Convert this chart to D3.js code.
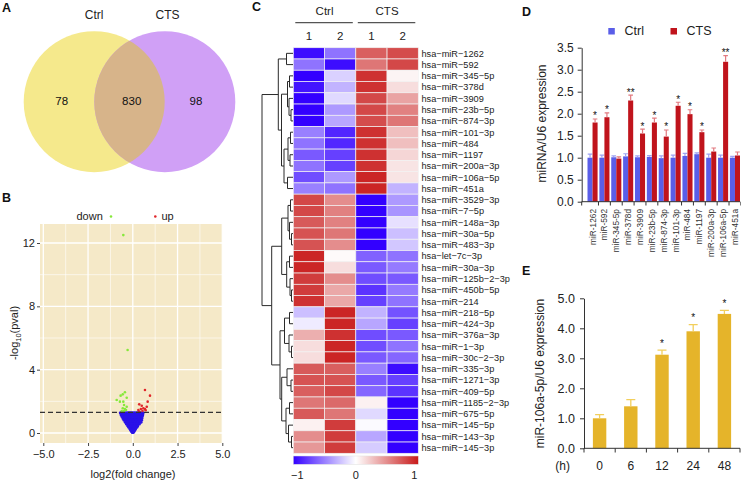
<!DOCTYPE html>
<html><head><meta charset="utf-8">
<script src="https://cdn.jsdelivr.net/npm/d3@7"></script>
<style>body{margin:0;background:#fff} text{font-family:"Liberation Sans",Arial,sans-serif}</style>
</head><body><svg id="c" width="741" height="481"></svg>
<script>
// ---------------- DATA ----------------
const vennSets = ["Ctrl", "CTS"];
const vennCounts = [78, 830, 98]; // only Ctrl, shared, only CTS

const volcanoDown = [[-0.53,12.5],[-0.29,5.24],[-0.44,2.57],[-0.56,2.44],[-0.68,2.36],[-0.34,2.23],[-0.90,2.08],[-0.72,1.98],[-0.53,1.98],[-0.49,1.77],[-0.34,1.66],[-0.56,1.56],[-0.44,1.52],[-0.49,1.39],[-0.62,1.39],[-0.38,1.45]];
const volcanoUp = [[0.68,2.72],[0.96,2.36],[0.83,1.98],[0.36,1.81],[0.50,1.72],[0.78,1.66],[0.59,1.56],[0.68,1.52],[0.45,1.52],[0.31,1.45],[0.36,1.36],[0.54,1.40],[0.72,1.44]];
const volcanoNS = [
[-0.70,1.28],[-0.62,1.28],[-0.54,1.28],[-0.46,1.28],[-0.38,1.28],[-0.30,1.28],[-0.22,1.28],[-0.14,1.28],[-0.06,1.28],[0.02,1.28],[0.10,1.28],[0.18,1.28],[0.26,1.28],[0.34,1.28],[0.42,1.28],[0.50,1.28],[0.58,1.28],
[-0.66,1.16],[-0.58,1.16],[-0.50,1.16],[-0.42,1.16],[-0.34,1.16],[-0.26,1.16],[-0.18,1.16],[-0.10,1.16],[-0.02,1.16],[0.06,1.16],[0.14,1.16],[0.22,1.16],[0.30,1.16],[0.38,1.16],[0.46,1.16],[0.56,1.16],
[-0.61,1.04],[-0.53,1.04],[-0.45,1.04],[-0.37,1.04],[-0.29,1.04],[-0.21,1.04],[-0.13,1.04],[-0.05,1.04],[0.04,1.04],[0.12,1.04],[0.20,1.04],[0.28,1.04],[0.36,1.04],[0.44,1.04],[0.53,1.04],
[-0.55,0.92],[-0.47,0.92],[-0.39,0.92],[-0.31,0.92],[-0.23,0.92],[-0.15,0.92],[-0.07,0.92],[0.02,0.92],[0.10,0.92],[0.18,0.92],[0.26,0.92],[0.34,0.92],[0.42,0.92],[0.51,0.92],
[-0.49,0.80],[-0.41,0.80],[-0.33,0.80],[-0.25,0.80],[-0.17,0.80],[-0.09,0.80],[0.00,0.80],[0.08,0.80],[0.16,0.80],[0.24,0.80],[0.32,0.80],[0.40,0.80],[0.49,0.80],
[-0.42,0.68],[-0.34,0.68],[-0.26,0.68],[-0.18,0.68],[-0.10,0.68],[-0.02,0.68],[0.06,0.68],[0.14,0.68],[0.22,0.68],[0.30,0.68],[0.38,0.68],[0.46,0.68],
[-0.36,0.57],[-0.28,0.57],[-0.20,0.57],[-0.12,0.57],[-0.04,0.57],[0.04,0.57],[0.12,0.57],[0.20,0.57],[0.28,0.57],[0.37,0.57],
[-0.29,0.46],[-0.21,0.46],[-0.13,0.46],[-0.05,0.46],[0.03,0.46],[0.11,0.46],[0.19,0.46],[0.28,0.46],
[-0.23,0.36],[-0.15,0.36],[-0.07,0.36],[0.01,0.36],[0.09,0.36],[0.17,0.36],[0.23,0.36],
[-0.17,0.27],[-0.09,0.27],[-0.01,0.27],[0.07,0.27],[0.16,0.27],
[-0.12,0.18],[-0.04,0.18],[0.04,0.18],[0.11,0.18],
[-0.07,0.10],[0.00,0.10],[0.07,0.10],
[-0.03,0.03],[0.03,0.03]];
const volcanoXTicks = [-5, -2.5, 0, 2.5, 5];
const volcanoXMinor = [-3.75, -1.25, 1.25, 3.75];
const volcanoYTicks = [0, 4, 8, 12];
const volcanoYMinor = [2, 6, 10];
const pvalCutoff = 1.3;

const heatRows = ["hsa-miR-1262","hsa-miR-592","hsa-miR-345-5p","hsa-miR-378d","hsa-miR-3909","hsa-miR-23b-5p","hsa-miR-874-3p","hsa-miR-101-3p","hsa-miR-484","hsa-miR-1197","hsa-miR-200a-3p","hsa-miR-106a-5p","hsa-miR-451a","hsa-miR-3529-3p","hsa-miR-7-5p","hsa-miR-148a-3p","hsa-miR-30a-5p","hsa-miR-483-3p","hsa-let-7c-3p","hsa-miR-30a-3p","hsa-miR-125b-2-3p","hsa-miR-450b-5p","hsa-miR-214","hsa-miR-218-5p","hsa-miR-424-3p","hsa-miR-376a-3p","hsa-miR-1-3p","hsa-miR-30c-2-3p","hsa-miR-335-3p","hsa-miR-1271-3p","hsa-miR-409-5p","hsa-miR-1185-2-3p","hsa-miR-675-5p","hsa-miR-145-5p","hsa-miR-143-3p","hsa-miR-145-3p"];
const heatCols = ["1", "2", "1", "2"];
const heatGroups = ["Ctrl", "CTS"];
const heatValues = [
[-0.95,-0.55,0.70,0.78],[-0.55,-0.95,0.60,0.80],[-1.00,-0.18,0.90,0.05],[-0.92,-0.30,0.90,0.15],[-1.00,-0.15,0.80,0.40],
[-1.00,-0.40,0.80,0.55],[-1.00,-0.35,0.78,0.60],[-0.50,-0.85,0.90,0.28],[-0.55,-0.85,0.90,0.28],[-0.65,-0.75,0.90,0.18],
[-0.55,-0.75,0.90,0.12],[-0.70,-0.40,0.95,0.12],[-0.50,-0.55,0.95,-0.30],[0.80,0.50,-1.00,-0.40],[0.80,0.55,-1.00,-0.42],
[0.72,0.55,-1.00,-0.12],[0.75,0.60,-1.00,-0.25],[0.75,0.50,-1.00,-0.22],[0.95,0.02,-0.62,-0.55],[0.95,0.15,-0.65,-0.52],
[0.85,0.50,-0.70,-0.65],[0.85,0.38,-0.80,-0.52],[0.90,0.38,-0.75,-0.55],[-0.25,0.95,-0.30,-0.68],[-0.08,0.95,-0.35,-0.75],
[0.35,0.90,-0.70,-0.65],[0.15,0.95,-0.70,-0.55],[0.15,0.95,-0.65,-0.60],[0.72,0.70,-0.50,-0.95],[0.75,0.75,-0.65,-0.75],
[0.70,0.80,-0.60,-0.80],[0.60,0.65,0.06,-1.00],[0.72,0.60,-0.15,-1.00],[0.06,0.85,-0.02,-1.00],[0.50,0.85,-0.35,-1.00],[0.45,0.85,-0.20,-1.00]];
// dendrogram: [mergeHeight, left, right]; leaves are row indices
const rowDendrogram =
 [31,
   [14.7, [6.5,0,1],
          [11.5, [5.5,[3.5,2,3],[4,4,[2,5,6]]],
                 [9, [5,[2.5,7,8],[3,9,10]], [5.5,11,12]]]],
   [21.3, [11.3, [5,[2.5,13,14],[3.5,15,[1.5,16,17]]],
                 [6.3,[3.5,18,19],[3,20,[1.5,21,22]]]],
          [13, [8.5,[3.5,23,24],[4,25,[1.5,26,27]]],
               [11.3,[6,28,[2,29,30]],[7,[3.5,31,32],[4.5,33,[1.5,34,35]]]]]]];
const legendTicks = [-1, 0, 1];

const qpcrMirs = ["miR-1262","miR-592","miR-345-5p","miR-378d","miR-3909","miR-23b-5p","miR-874-3p","miR-101-3p","miR-484","miR-1197","miR-200a-3p","miR-106a-5p","miR-451a"];
const qpcrCtrl    = [1.00,1.00,1.01,1.03,1.01,1.02,0.99,1.00,1.04,1.08,1.00,1.00,1.00];
const qpcrCtrlErr = [0.08,0.06,0.03,0.06,0.03,0.03,0.05,0.06,0.06,0.03,0.08,0.06,0.03];
const qpcrCTS     = [1.80,1.92,0.98,2.30,1.55,1.80,1.48,2.18,1.99,1.58,1.14,3.18,1.05];
const qpcrCTSErr  = [0.08,0.10,0.04,0.12,0.10,0.10,0.15,0.08,0.10,0.05,0.08,0.14,0.08];
const qpcrSig     = ["*","*","","**","*","*","*","*","*","*","","**",""];
const qpcrYTicks = [0,0.5,1,1.5,2,2.5,3,3.5];

const timeLabels = ["0","6","12","24","48"];
const timeValues = [1.00,1.40,3.12,3.90,4.48];
const timeErr    = [0.12,0.22,0.15,0.22,0.12];
const timeSig    = ["","","*","*","*"];
const timeYTicks = [0,1,2,3,4,5];

// ---------------- DRAW ----------------
const svg = d3.select("#c");
svg.append("rect").attr("width",741).attr("height",481).attr("fill","#fff");
const FONT = '"Liberation Sans", Arial, sans-serif';
function panelLetter(t,x,y){ svg.append("text").attr("x",x).attr("y",y).attr("font-size",12.5).attr("font-weight","bold").attr("fill","#111").text(t); }
panelLetter("A",2,12); panelLetter("B",2,201.5); panelLetter("C",252,11); panelLetter("D",522,16); panelLetter("E",522,275);

// ---- A: Venn ----
{
  const g = svg.append("g");
  const cL = {x:94.2,y:101.7,r:70.5}, cR = {x:164.8,y:101.7,r:70.5};
  g.append("circle").attr("cx",cL.x).attr("cy",cL.y).attr("r",cL.r).attr("fill","#f5e98c");
  g.append("circle").attr("cx",cR.x).attr("cy",cR.y).attr("r",cR.r).attr("fill","#d0a0f6");
  svg.append("clipPath").attr("id","vclip").append("circle").attr("cx",cL.x).attr("cy",cL.y).attr("r",cL.r);
  g.append("circle").attr("cx",cR.x).attr("cy",cR.y).attr("r",cR.r).attr("fill","#d7b48a").attr("clip-path","url(#vclip)");
  g.append("text").attr("x",cL.x).attr("y",19.3).attr("text-anchor","middle").attr("font-size",12).attr("fill","#222").text(vennSets[0]);
  g.append("text").attr("x",167.5).attr("y",19.3).attr("text-anchor","middle").attr("font-size",12).attr("fill","#222").text(vennSets[1]);
  const numX = [61.7,131.7,196];
  vennCounts.forEach((v,i)=> g.append("text").attr("x",numX[i]).attr("y",104.5).attr("text-anchor","middle").attr("font-size",11.5).attr("fill","#111").text(v));
}

// ---- B: Volcano ----
{
  const g = svg.append("g");
  const x = d3.scaleLinear([-5,5],[43.3,222.3]);
  const y = d3.scaleLinear([0,12],[433,243]);
  const px0 = 40, px1 = 223, py0 = 224, py1 = 443;
  g.append("rect").attr("x",px0).attr("y",py0).attr("width",px1-px0).attr("height",py1-py0).attr("fill","#f5e9c8");
  volcanoXMinor.forEach(v=> g.append("line").attr("x1",x(v)).attr("x2",x(v)).attr("y1",py0).attr("y2",py1).attr("stroke","#fff").attr("stroke-width",0.6));
  volcanoYMinor.forEach(v=> g.append("line").attr("x1",px0).attr("x2",px1).attr("y1",y(v)).attr("y2",y(v)).attr("stroke","#fff").attr("stroke-width",0.6));
  volcanoXTicks.forEach(v=> g.append("line").attr("x1",x(v)).attr("x2",x(v)).attr("y1",py0).attr("y2",py1).attr("stroke","#fff").attr("stroke-width",1.3));
  volcanoYTicks.forEach(v=> g.append("line").attr("x1",px0).attr("x2",px1).attr("y1",y(v)).attr("y2",y(v)).attr("stroke","#fff").attr("stroke-width",1.3));
  const pts = g.append("g");
  pts.selectAll(".ns").data(volcanoNS).join("circle").attr("cx",d=>x(d[0])).attr("cy",d=>y(d[1])).attr("r",1.5).attr("fill","#2a12e8");
  pts.selectAll(".dn").data(volcanoDown).join("circle").attr("cx",d=>x(d[0])).attr("cy",d=>y(d[1])).attr("r",1.3).attr("fill","#86e83a");
  pts.selectAll(".up").data(volcanoUp).join("circle").attr("cx",d=>x(d[0])).attr("cy",d=>y(d[1])).attr("r",1.3).attr("fill","#e0262a");
  g.append("line").attr("x1",px0).attr("x2",px1).attr("y1",y(pvalCutoff)).attr("y2",y(pvalCutoff)).attr("stroke","#333").attr("stroke-width",1.2).attr("stroke-dasharray","5,3");
  const ax = g.append("g").attr("transform",`translate(0,${py1})`).call(d3.axisBottom(x).tickValues(volcanoXTicks).tickFormat(d3.format(".1f")).tickSize(3).tickPadding(4));
  const ay = g.append("g").attr("transform",`translate(${px0},0)`).call(d3.axisLeft(y).tickValues(volcanoYTicks).tickSize(3).tickPadding(2));
  [ax,ay].forEach(a=>{ a.select(".domain").remove(); a.selectAll("line").attr("stroke","#444"); a.selectAll("text").attr("font-size",11).attr("fill","#222").attr("font-family",FONT); });
  g.append("text").attr("x",133).attr("y",478).attr("text-anchor","middle").attr("font-size",11).attr("fill","#222").text("log2(fold change)");
  const yl = g.append("text").attr("transform","translate(18,333) rotate(-90)").attr("text-anchor","middle").attr("font-size",11).attr("fill","#222");
  yl.append("tspan").text("-log");
  yl.append("tspan").attr("font-size",7.5).attr("dy",3).text("10");
  yl.append("tspan").attr("dy",-3).text("(pval)");
  // legend
  g.append("text").attr("x",76.5).attr("y",220).attr("font-size",11).attr("fill","#222").text("down");
  g.append("circle").attr("cx",111).attr("cy",216.5).attr("r",1.3).attr("fill","#86e83a");
  g.append("circle").attr("cx",155.3).attr("cy",216.5).attr("r",1.3).attr("fill","#e0262a");
  g.append("text").attr("x",161.5).attr("y",220).attr("font-size",11).attr("fill","#222").text("up");
}

// ---- C: Heatmap ----
{
  const g = svg.append("g");
  const color = d3.scaleLinear([-1,0,1],["#3300ff","#ffffff","#c81a1a"]);
  const xc = d3.scaleBand(d3.range(heatCols.length),[293.3,418.3]);
  const yr = d3.scaleBand(d3.range(heatRows.length),[47.7,453.3]);
  heatValues.forEach((row,i)=> row.forEach((v,j)=>{
    g.append("rect").attr("x",xc(j)).attr("y",yr(i)).attr("width",xc.bandwidth()).attr("height",yr.bandwidth())
      .attr("fill",color(v)).attr("stroke","#f2f2f2").attr("stroke-width",0.7);
  }));
  g.selectAll(".rl").data(heatRows).join("text").attr("x",421.5).attr("y",(d,i)=>yr(i)+yr.bandwidth()/2+3.3)
    .attr("font-size",9.2).attr("fill","#222").text(d=>d.replace(/-/g,"\u2212"));
  // headers
  heatCols.forEach((c,j)=> g.append("text").attr("x",xc(j)+xc.bandwidth()/2).attr("y",40).attr("text-anchor","middle").attr("font-size",11.5).attr("fill","#222").text(c));
  heatGroups.forEach((grp,k)=>{
    const a = xc(2*k), b = xc(2*k+1)+xc.bandwidth();
    g.append("line").attr("x1",a+2).attr("x2",b-3).attr("y1",22.7).attr("y2",22.7).attr("stroke","#555").attr("stroke-width",1.2);
    g.append("text").attr("x",(a+b)/2).attr("y",15).attr("text-anchor","middle").attr("font-size",11.5).attr("fill","#222").text(grp);
  });
  // dendrogram
  const hx = d3.scaleLinear([0,31],[293,262]);
  function draw(node){
    if (typeof node === "number") return {x: hx(0), y: yr(node)+yr.bandwidth()/2};
    const a = draw(node[1]), b = draw(node[2]);
    const xn = hx(node[0]);
    g.append("path").attr("d",`M${a.x},${a.y}H${xn}V${b.y}H${b.x}`).attr("fill","none").attr("stroke","#2a2a2a").attr("stroke-width",1);
    return {x: xn, y: (a.y+b.y)/2};
  }
  draw(rowDendrogram);
  // color legend
  const defs = svg.append("defs");
  const grad = defs.append("linearGradient").attr("id","hgrad");
  d3.range(0,1.0001,0.1).forEach(t=> grad.append("stop").attr("offset",t).attr("stop-color",color(-1+2*t)));
  g.append("rect").attr("x",293.3).attr("y",456).attr("width",125).attr("height",8.3).attr("fill","url(#hgrad)").attr("stroke","#ddd").attr("stroke-width",0.5);
  const lx = d3.scaleLinear([-1.07,1.07],[293.3,418.3]);
  legendTicks.forEach(t=> g.append("text").attr("x",lx(t)).attr("y",479).attr("text-anchor","middle").attr("font-size",11).attr("fill","#222").text(d3.format("d")(t)));
}

// ---- D: qPCR grouped bars ----
{
  const g = svg.append("g");
  const y = d3.scaleLinear([0,3.5],[201.7,47.7]);
  const x = d3.scaleBand(qpcrMirs,[587.5,740]).paddingInner(0.15).paddingOuter(0);
  const xs = d3.scaleBand(["Ctrl","CTS"],[0,x.bandwidth()]);
  const cols = {Ctrl:"#5a5ee8", CTS:"#c0141c"}, ecols = {Ctrl:"#9ea2f2", CTS:"#e27a80"};
  const series = [["Ctrl",qpcrCtrl,qpcrCtrlErr],["CTS",qpcrCTS,qpcrCTSErr]];
  series.forEach(([k,vals,errs])=>{
    qpcrMirs.forEach((m,i)=>{
      const bx = x(m)+xs(k), bw = xs.bandwidth(), cx = bx+bw/2;
      g.append("rect").attr("x",bx).attr("y",y(vals[i])).attr("width",bw).attr("height",y(0)-y(vals[i])).attr("fill",cols[k]);
      const top = y(vals[i]+errs[i]);
      g.append("path").attr("d",`M${cx},${y(vals[i])}V${top}M${cx-2.3},${top}H${cx+2.3}`).attr("stroke",ecols[k]).attr("stroke-width",1.2).attr("fill","none");
    });
  });
  qpcrMirs.forEach((m,i)=>{ if(qpcrSig[i]) {
    const cx = x(m)+xs("CTS")+xs.bandwidth()/2;
    g.append("text").attr("x",cx).attr("y",y(qpcrCTS[i]+qpcrCTSErr[i])+0.5).attr("text-anchor","middle").attr("font-size",10).attr("fill","#111").text(qpcrSig[i]);
  }});
  const ay = g.append("g").attr("transform","translate(581.7,0)").call(d3.axisLeft(y).tickValues(qpcrYTicks).tickFormat(d3.format(".1f")).tickSize(4).tickSizeOuter(0).tickPadding(4));
  ay.selectAll("text").attr("font-size",12).attr("fill","#222").attr("font-family",FONT);
  ay.selectAll("line,path").attr("stroke","#333");
  // x axis
  g.append("line").attr("x1",581.7).attr("x2",740).attr("y1",201.7).attr("y2",201.7).attr("stroke","#333");
  const gap = x.step()-x.bandwidth();
  const bounds = [581.7].concat(qpcrMirs.map(m=>x(m)+x.bandwidth()+gap/2));
  bounds.forEach(b=> g.append("line").attr("x1",b).attr("x2",b).attr("y1",201.7).attr("y2",205.5).attr("stroke","#333"));
  qpcrMirs.forEach(m=> g.append("text").attr("transform",`translate(${x(m)+x.bandwidth()/2+3},209) rotate(-90)`).attr("text-anchor","end").attr("font-size",8.3).attr("fill","#333").text(m));
  g.append("text").attr("transform","translate(546,123.5) rotate(-90)").attr("text-anchor","middle").attr("font-size",12).attr("fill","#222").text("miRNA/U6 expression");
  // legend
  g.append("rect").attr("x",608.3).attr("y",28).attr("width",6.5).attr("height",6.5).attr("fill",cols.Ctrl);
  g.append("text").attr("x",624.5).attr("y",34.5).attr("font-size",12.5).attr("fill","#222").text("Ctrl");
  g.append("rect").attr("x",670.5).attr("y",28).attr("width",6.5).attr("height",6.5).attr("fill",cols.CTS);
  g.append("text").attr("x",686.5).attr("y",34.5).attr("font-size",12.5).attr("fill","#222").text("CTS");
}

// ---- E: time course ----
{
  const g = svg.append("g");
  const y = d3.scaleLinear([0,5],[448.3,298.3]);
  const x = d3.scaleBand(timeLabels,[584,740]).paddingInner(0.57).paddingOuter(0.285);
  timeLabels.forEach((t,i)=>{
    const bx = x(t), bw = x.bandwidth(), cx = bx+bw/2, top = y(timeValues[i]+timeErr[i]);
    g.append("rect").attr("x",bx).attr("y",y(timeValues[i])).attr("width",bw).attr("height",y(0)-y(timeValues[i])).attr("fill","#e5b42a");
    g.append("path").attr("d",`M${cx},${y(timeValues[i])}V${top}M${cx-4.5},${top}H${cx+4.5}`).attr("stroke","#f2cf5c").attr("stroke-width",1.3).attr("fill","none");
    if (timeSig[i]) g.append("text").attr("x",cx).attr("y",top-3.5).attr("text-anchor","middle").attr("font-size",10).attr("fill","#111").text(timeSig[i]);
  });
  const ay = g.append("g").attr("transform","translate(584,0)").call(d3.axisLeft(y).tickValues(timeYTicks).tickFormat(d3.format(".1f")).tickSize(4).tickSizeOuter(0).tickPadding(5));
  ay.selectAll("text").attr("font-size",12.5).attr("fill","#222").attr("font-family",FONT);
  ay.selectAll("line,path").attr("stroke","#333");
  g.append("line").attr("x1",584).attr("x2",740).attr("y1",448.3).attr("y2",448.3).attr("stroke","#333");
  const bounds = [584].concat(timeLabels.map(t=>x(t)+x.bandwidth()+(x.step()-x.bandwidth())/2));
  bounds.forEach(b=> g.append("line").attr("x1",b).attr("x2",b).attr("y1",448.3).attr("y2",452.5).attr("stroke","#333"));
  timeLabels.forEach(t=> g.append("text").attr("x",x(t)+x.bandwidth()/2).attr("y",470).attr("text-anchor","middle").attr("font-size",12).attr("fill","#222").text(t));
  g.append("text").attr("x",562.7).attr("y",470).attr("text-anchor","middle").attr("font-size",12).attr("fill","#222").text("(h)");
  g.append("text").attr("transform","translate(544,373.5) rotate(-90)").attr("text-anchor","middle").attr("font-size",12).attr("fill","#222").text("miR-106a-5p/U6 expression");
}
</script></body></html>
